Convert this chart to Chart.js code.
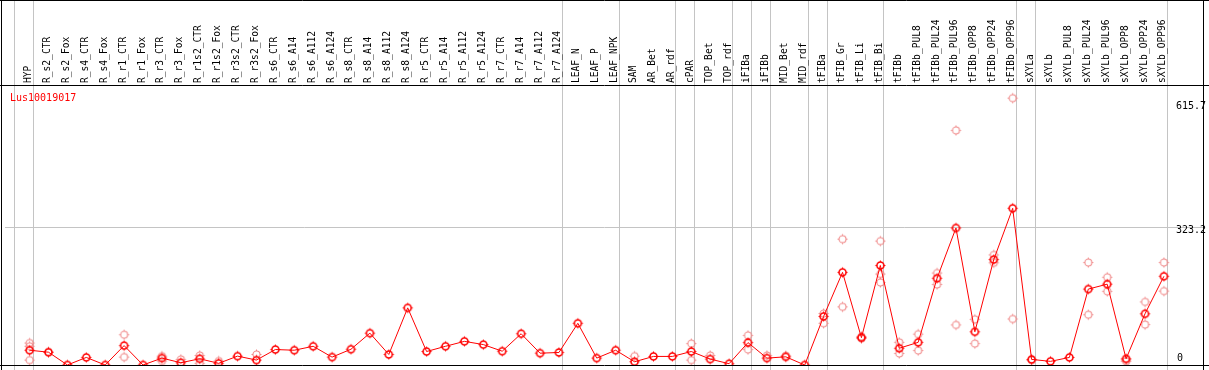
<!DOCTYPE html>
<html>
<head>
<meta charset="utf-8">
<script src="https://cdn.jsdelivr.net/npm/chart.js@4/dist/chart.umd.min.js"></script>
<style>
  html, body { margin: 0; padding: 0; background: #fff; }
  #wrap { width: 1209px; height: 370px; position: relative; }
</style>
</head>
<body>
<div id="wrap"><canvas id="expr"></canvas></div>
<script>
const geneName = 'Lus10019017';

const categories = [
  'HYP', 'R_s2_CTR', 'R_s2_Fox', 'R_s4_CTR', 'R_s4_Fox', 'R_r1_CTR', 'R_r1_Fox', 'R_r3_CTR', 'R_r3_Fox',
  'R_r1s2_CTR', 'R_r1s2_Fox', 'R_r3s2_CTR', 'R_r3s2_Fox', 'R_s6_CTR', 'R_s6_A14', 'R_s6_A112', 'R_s6_A124',
  'R_s8_CTR', 'R_s8_A14', 'R_s8_A112', 'R_s8_A124', 'R_r5_CTR', 'R_r5_A14', 'R_r5_A112', 'R_r5_A124',
  'R_r7_CTR', 'R_r7_A14', 'R_r7_A112', 'R_r7_A124', 'LEAF_N', 'LEAF_P', 'LEAF_NPK', 'SAM', 'AR_Bet', 'AR_rdf',
  'cPAR', 'TOP_Bet', 'TOP_rdf', 'iFIBa', 'iFIBb', 'MID_Bet', 'MID_rdf', 'tFIBa', 'tFIB_Gr', 'tFIB_Li', 'tFIB_Bi',
  'tFIBb', 'tFIBb_PUL8', 'tFIBb_PUL24', 'tFIBb_PUL96', 'tFIBb_OPP8', 'tFIBb_OPP24', 'tFIBb_OPP96',
  'sXYLa', 'sXYLb', 'sXYLb_PUL8', 'sXYLb_PUL24', 'sXYLb_PUL96', 'sXYLb_OPP8', 'sXYLb_OPP24', 'sXYLb_OPP96'
];

// mean expression per sample
const means = [
  34.5, 29.9, 0, 17.7, 0, 45.3, 0, 16.1, 5.3, 14.5, 3.9, 20.7, 11.5, 36.1, 34.5, 43.7, 18.4,
  36.8, 74.4, 24.6, 133.5, 31.5, 43.7, 55.2, 47.7, 32.2, 73.0, 27.6, 29.2, 97.4, 16.1, 34.5,
  7.6, 20.0, 20.0, 31.5, 13.8, 3.0, 52.3, 16.1, 19.1, 0, 113.5, 216.4, 63.8, 232.5,
  39.1, 52.9, 202.6, 320.0, 77.6, 246.3, 366.0,
  13.1, 8.5, 17.7, 177.3, 188.8, 14.5, 119.7, 207.2
];

// replicate values (only the ones that show apart from the mean)
const replicates = [
  [51.3, 43.7, 11.5], [30], [], [], [], [70.7, 18.4], [], [20.7, 9.2], [13.1],
  [22.3, 3.9], [9.2], [], [24.6], [], [], [], [],
  [], [], [], [], [], [], [], [],
  [], [], [], [], [], [], [],
  [20.7], [], [], [50.0, 11.5], [22.3], [], [69.1, 36.1], [22.3], [21.5], [], [120.4, 97.4], [294.0, 135.8], [66.8, 62.0], [289.4, 212.5, 192.7],
  [52.9, 26.9], [72.1, 33.8], [214.8, 188.1], [547.9, 93.7], [106.6, 50.0], [257.1, 238.7], [623.2, 107.5],
  [11.0], [], [], [239.4, 117.4], [204.9, 172.0], [8.5, 12.0], [147.3, 94.4], [239.4, 172.6]
];

const yTickValues = [0, 323.2, 615.7];
// last sample index of each group (vertical separators)
const groupEnds = [-1, 0, 28, 31, 34, 35, 37, 38, 39, 41, 42, 45, 52, 53, 60];

function marker(color, lw) {
  const c = document.createElement('canvas');
  c.width = 13; c.height = 13;
  const g = c.getContext('2d');
  g.strokeStyle = color;
  g.lineWidth = lw;
  g.beginPath();
  g.arc(6.5, 6.5, 3.5, 0, Math.PI * 2);
  g.stroke();
  g.lineWidth = 1;
  g.beginPath();
  g.moveTo(6.5, 1.5); g.lineTo(6.5, 3);
  g.moveTo(6.5, 10); g.lineTo(6.5, 11.5);
  g.moveTo(1.5, 6.5); g.lineTo(3, 6.5);
  g.moveTo(10, 6.5); g.lineTo(11.5, 6.5);
  g.stroke();
  return c;
}

const meanMarker = marker('#ff0000', 1.6);
const repMarker = marker('#f08a8a', 1.1);

const meanPoints = means.map((v, i) => ({ x: i, y: v }));
const repPoints = [];
replicates.forEach((list, i) => list.forEach(v => repPoints.push({ x: i, y: v })));

const MONO = '9.6px "DejaVu Sans Mono", monospace';

const framePlugin = {
  id: 'frame',
  beforeDatasetsDraw(chart) {
    const { ctx, chartArea, scales } = chart;
    const x = scales.x, y = scales.y;
    ctx.save();
    ctx.strokeStyle = '#c4c4c4';
    ctx.lineWidth = 1;
    // separators between sample groups
    groupEnds.forEach(k => {
      const px = Math.round(x.getPixelForValue(k + 0.21)) - 0.5;
      ctx.beginPath();
      ctx.moveTo(px, 0);
      ctx.lineTo(px, chart.height);
      ctx.stroke();
    });
    // middle grid line
    const gy = Math.round(y.getPixelForValue(yTickValues[1])) + 0.5;
    ctx.beginPath();
    ctx.moveTo(chartArea.left, gy);
    ctx.lineTo(chartArea.right, gy);
    ctx.stroke();

    // sample labels
    ctx.fillStyle = '#000';
    ctx.font = MONO;
    ctx.textAlign = 'left';
    ctx.textBaseline = 'middle';
    categories.forEach((name, i) => {
      const px = x.getPixelForValue(i) - 1;
      ctx.save();
      ctx.translate(px, chartArea.top - 2);
      ctx.rotate(-Math.PI / 2);
      ctx.fillText(name, 0, 0);
      ctx.restore();
    });

    // y labels on the right
    ctx.font = '10px "DejaVu Sans Mono", monospace';
    const lx = x.getPixelForValue(categories.length - 1) + 12;
    ctx.fillText(String(yTickValues[2]), lx, y.getPixelForValue(yTickValues[2]) + 5);
    ctx.fillText(String(yTickValues[1]), lx, y.getPixelForValue(yTickValues[1]) + 4);
    ctx.fillText(String(yTickValues[0]), lx + 1, y.getPixelForValue(yTickValues[0]) - 7);

    // gene name
    ctx.fillStyle = '#ff0000';
    ctx.fillText(geneName, 10, chartArea.top + 13);
    ctx.restore();
  },
  afterDraw(chart) {
    const { ctx, chartArea } = chart;
    ctx.save();
    ctx.strokeStyle = '#000';
    ctx.lineWidth = 1;
    ctx.beginPath();
    ctx.moveTo(0, 0.5); ctx.lineTo(chart.width, 0.5);
    ctx.moveTo(0, chartArea.top + 0.5); ctx.lineTo(chart.width, chartArea.top + 0.5);
    ctx.moveTo(0, chartArea.bottom + 0.5); ctx.lineTo(chart.width, chartArea.bottom + 0.5);
    ctx.moveTo(1.5, 0); ctx.lineTo(1.5, chart.height);
    ctx.moveTo(chartArea.right - 0.5, 0); ctx.lineTo(chartArea.right - 0.5, chart.height);
    ctx.stroke();
    ctx.restore();
  }
};

try {
  new Chart(document.getElementById('expr'), {
    type: 'scatter',
    data: {
      datasets: [
        {
          type: 'line',
          label: 'mean',
          data: meanPoints,
          borderColor: '#ff0000',
          borderWidth: 1,
          pointStyle: meanMarker,
          tension: 0,
          order: 0
        },
        {
          type: 'scatter',
          label: 'replicates',
          data: repPoints,
          pointStyle: repMarker,
          showLine: false,
          order: 1
        }
      ]
    },
    options: {
      responsive: true,
      maintainAspectRatio: false,
      animation: false,
      events: [],
      layout: { padding: { left: 2, right: 1, top: 85, bottom: 1 } },
      plugins: {
        legend: { display: false },
        tooltip: { enabled: false }
      },
      scales: {
        x: { type: 'linear', min: -1.3, max: 62.12, display: false },
        y: { type: 'linear', min: 0, max: 654, display: false }
      }
    },
    plugins: [framePlugin]
  });
} catch (error) {
  console.log(error);
}
</script>
</body>
</html>
